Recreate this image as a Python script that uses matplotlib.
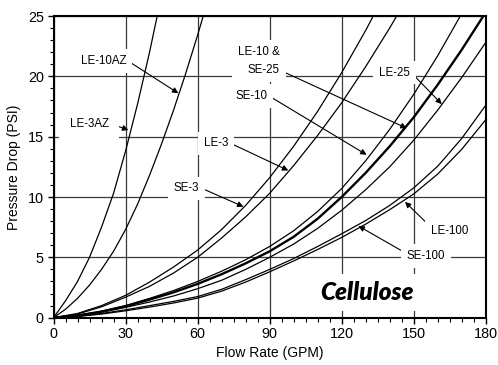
import matplotlib
matplotlib.use('Agg')
import matplotlib.pyplot as plt
from matplotlib.ticker import MultipleLocator

plt.rcParams['font.family'] = ['Liberation Sans', 'DejaVu Sans']

# ---- data ----
x_ticks = [0, 30, 60, 90, 120, 150, 180]
y_ticks = [0, 5, 10, 15, 20, 25]

flow_3az = [0, 5, 10, 15, 20, 25, 30, 35, 40, 45]
le_3az = [0, 1.4, 3.0, 5.0, 7.5, 10.3, 13.8, 17.7, 22.0, 26.7]

flow_10az = [0, 5, 10, 15, 20, 25, 30, 35, 40, 45, 50, 55, 60, 65]
le_10az = [0, 0.7, 1.6, 2.7, 4.0, 5.5, 7.3, 9.4, 11.8, 14.4, 17.2, 20.2, 23.4, 26.8]

flow_3 = [0, 10, 20, 30, 40, 50, 60, 70, 80, 90, 100, 110, 120, 130, 140, 150]
se_3 = [0, 0.35, 1.0, 1.85, 2.95, 4.2, 5.6, 7.3, 9.3, 11.6, 14.2, 17.1, 20.3, 23.8, 27.6, 31.6]
le_3 = [0, 0.3, 0.9, 1.7, 2.6, 3.7, 5.0, 6.6, 8.35, 10.3, 12.6, 15.1, 17.8, 20.8, 24.0, 27.4]

flow = [0, 10, 20, 30, 40, 50, 60, 70, 80, 90, 100, 110, 120, 130, 140, 150, 160, 170, 180]
se_10 = [0, 0.2, 0.55, 1.0, 1.6, 2.25, 3.0, 3.85, 4.8, 5.9, 7.2, 8.8, 10.7, 13.0, 15.6, 18.5, 21.7, 25.2, 29.0]
le_10_se_25 = [0, 0.18, 0.5, 0.95, 1.5, 2.1, 2.8, 3.6, 4.5, 5.5, 6.7, 8.2, 10.0, 12.0, 14.2, 16.6, 19.3, 22.2, 25.3]
le_25 = [0, 0.15, 0.45, 0.85, 1.3, 1.8, 2.4, 3.1, 4.0, 5.0, 6.1, 7.4, 8.9, 10.6, 12.5, 14.7, 17.2, 19.9, 22.8]
le_100 = [0, 0.12, 0.35, 0.65, 1.0, 1.35, 1.75, 2.35, 3.15, 4.0, 4.9, 5.9, 6.95, 8.05, 9.3, 10.75, 12.55, 14.85, 17.6]
se_100 = [0, 0.1, 0.3, 0.57, 0.88, 1.22, 1.62, 2.2, 2.95, 3.8, 4.7, 5.65, 6.65, 7.75, 8.95, 10.25, 11.9, 13.95, 16.4]

# ---- figure ----
W, H = 498, 365
fig = plt.figure(figsize=(W / 100, H / 100), dpi=100)
x0, x1, y0, y1 = 53.5, 485.7, 16, 317.7
ax = fig.add_axes([x0 / W, 1 - y1 / H, (x1 - x0) / W, (y1 - y0) / H])
ax.set_xlim(0, 180)
ax.set_ylim(0, 25)
ax.set_xticks(x_ticks)
ax.set_yticks(y_ticks)
ax.xaxis.set_minor_locator(MultipleLocator(5))
ax.yaxis.set_minor_locator(MultipleLocator(1))
ax.tick_params(which='major', direction='out', length=4, width=1, labelsize=10.4, pad=3)
ax.tick_params(which='minor', direction='out', length=3, width=0.8)
for s in ax.spines.values():
    s.set_linewidth(1.5)
ax.set_axisbelow(True)
ax.grid(which='major', color='#3a3a3a', lw=0.9, zorder=0.5)

ax.set_xlabel('Flow Rate (GPM)', fontsize=10, labelpad=3.5)
ax.set_ylabel('Pressure Drop (PSI)', fontsize=10, labelpad=5)

lc = 'black'
ax.plot(flow_3az, le_3az, color=lc, lw=0.9, zorder=3)
ax.plot(flow_10az, le_10az, color=lc, lw=0.9, zorder=3)
ax.plot(flow_3, se_3, color=lc, lw=0.9, zorder=3)
ax.plot(flow_3, le_3, color=lc, lw=0.9, zorder=3)
ax.plot(flow, se_10, color=lc, lw=0.9, zorder=3)
ax.plot(flow, le_10_se_25, color=lc, lw=1.7, zorder=3)
ax.plot(flow, le_25, color=lc, lw=0.9, zorder=3)
ax.plot(flow, le_100, color=lc, lw=0.9, zorder=3)
ax.plot(flow, se_100, color=lc, lw=0.9, zorder=3)

arr = dict(arrowstyle='-|>', color='black', lw=0.8, mutation_scale=8.5,
           shrinkA=0, shrinkB=0)
fs = 8.3


def label(txt, tip, pos, ha='center', relpos=(1, 0.5), pad=0.5, **kw):
    a = dict(arr)
    a['relpos'] = relpos
    box = dict(boxstyle='square,pad=%g' % pad, fc='white', ec='none')
    ax.annotate(txt, xy=tip, xytext=pos, ha=ha, va='center', fontsize=fs,
                bbox=box, arrowprops=a, zorder=2, **kw)


label('LE-10AZ', (52, 18.6), (20.8, 21.27), relpos=(1, 0.6))
label('LE-3AZ', (31.2, 15.55), (14.8, 16.04), relpos=(1, 0.6), pad=0.9)
label('LE-3', (97.8, 12.2), (67.6, 14.45), relpos=(1, 0.6))
label('SE-3', (79.1, 9.2), (55.3, 10.72), relpos=(1, 0.6))
label('SE-10', (130.4, 13.5), (82.3, 18.37), relpos=(1, 0.6))
label('LE-10 &\nSE-25', (147.1, 15.7), (94.3, 21.27), ha='right',
      relpos=(1, 0.2), multialignment='right', linespacing=1.75)
label('LE-25', (161.7, 17.7), (142.1, 20.3), relpos=(1, 0.6))
label('LE-100', (146.4, 9.6), (165.1, 7.18), relpos=(0, 0.8))
label('SE-100', (127.0, 7.6), (155.1, 5.11), relpos=(0, 0.7))

ax.text(130.4, 2.1, 'Cellulose', ha='center', va='center', fontsize=17.5,
        family=['Lato', 'Liberation Sans', 'DejaVu Sans'],
        fontweight='heavy', fontstyle='italic', zorder=2,
        bbox=dict(boxstyle='square,pad=0.3', fc='white', ec='none'))

fig.savefig('out.png', dpi=100)
